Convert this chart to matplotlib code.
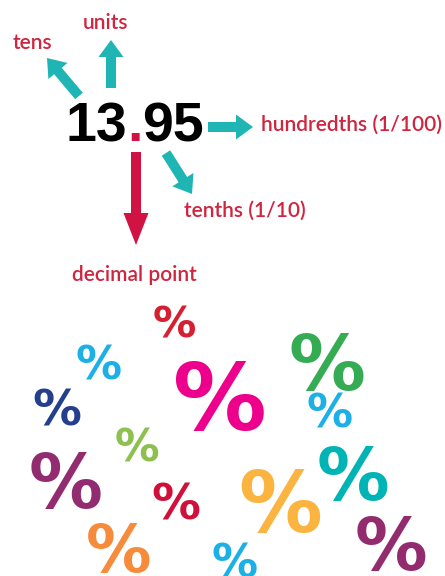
import matplotlib
matplotlib.use("Agg")
import matplotlib.pyplot as plt
from matplotlib.patches import FancyArrow

# place-value labels: text, left x, baseline y
labels = ["tens", "units", "hundredths (1/100)", "tenths (1/10)", "decimal point"]
label_x = [13, 83, 261, 184, 72]
label_y = [49, 29, 131, 217, 281]

# arrows: tail -> tip
arrow_from = [(79, 96), (111, 88), (208, 127), (166, 153), (136, 152)]
arrow_to = [(47, 58), (111, 40), (253, 127), (192, 194), (136, 245)]
arrow_colors = ["#1fb5b5", "#1fb5b5", "#1fb5b5", "#1fb5b5", "#d01343"]

# scattered percent signs: centre x, bottom y, height (px), colour
pct_x = [174, 99, 220, 327, 330, 57, 137, 66, 176, 353, 280, 119, 235, 391]
pct_y = [338, 380, 430, 390, 428, 425, 462, 508, 520, 500, 532, 572, 578, 570]
pct_h = [31, 33, 67, 55, 33, 35, 32, 53, 35, 52, 60, 47, 33, 52]
pct_colors = ["#d42030", "#1cb0e6", "#ec008c", "#35ac54", "#1cb0e6", "#233f8e",
              "#8dc04f", "#922b6f", "#d0103a", "#00b4b6", "#fbb440", "#f68b3c",
              "#1cb0e6", "#932b6f"]

fig = plt.figure(figsize=(4.45, 5.76), dpi=100)
ax = fig.add_axes([0, 0, 1, 1])
ax.set_xlim(0, 445)
ax.set_ylim(576, 0)
ax.axis("off")

# the number, with the red decimal point
ax.text(127.5, 141, "13", ha="right", va="baseline", fontsize=40,
        fontweight="bold", family="Liberation Sans", color="black")
ax.text(135, 141, ".", ha="center", va="baseline", fontsize=40,
        fontweight="bold", family="Liberation Sans", color="#d01343")
ax.text(142.5, 141, "95", ha="left", va="baseline", fontsize=40,
        fontweight="bold", family="Liberation Sans", color="black")

for (x0, y0), (x1, y1), c in zip(arrow_from, arrow_to, arrow_colors):
    big = c == "#d01343"
    ax.add_patch(FancyArrow(x0, y0, x1 - x0, y1 - y0, width=10,
                            head_width=25, head_length=32 if big else 17,
                            length_includes_head=True, color=c, lw=0))

for t, x, y in zip(labels, label_x, label_y):
    ax.text(x, y, t, ha="left", va="baseline", fontsize=15,
            family="Lato", fontweight="semibold", color="#d0243f")

for x, y, h, c in zip(pct_x, pct_y, pct_h, pct_colors):
    ax.text(x, y, "%", ha="center", va="baseline", fontsize=h / 0.76 * 0.72 * 1.06,
            fontweight="bold", family="DejaVu Sans", color=c)

fig.savefig("out.png", dpi=100, facecolor="white")
